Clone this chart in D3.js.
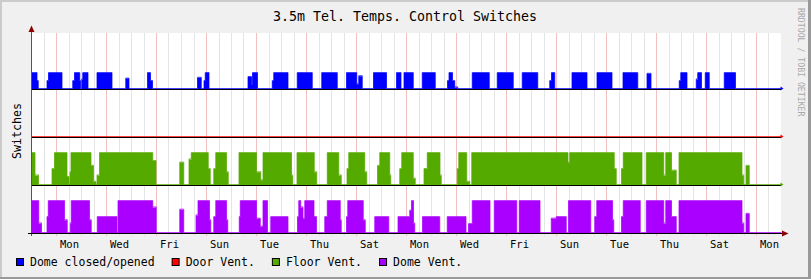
<!DOCTYPE html>
<html><head><meta charset="utf-8">
<script src="https://cdn.jsdelivr.net/npm/d3@7"></script>
<style>
body{margin:0;background:#f0f0f0}
svg{display:block}
text{font-family:"DejaVu Sans Mono",monospace}
</style>
</head><body><svg id="c" width="811" height="279"></svg>
<script>
// ---------- data ----------
const titleText = "3.5m Tel. Temps. Control Switches";
const yLabel = "Switches";
const watermark = "RRDTOOL / TOBI OETIKER";
const seriesNames = ["Dome closed/opened", "Door Vent.", "Floor Vent.", "Dome Vent."];
const seriesColors = ["#0000ff", "#ff0000", "#55aa00", "#aa00ff"];
const laneOffsets = [9, 6, 3, 0];      // stacked lane baselines (y units)
const laneHeights = [1, 2, 2, 2];      // height of a full "on" value per series
const dayLabels = ["Mon","Wed","Fri","Sun","Tue","Thu","Sat","Mon","Wed","Fri","Sun","Tue","Thu","Sat","Mon"];
const totalDays = 30;

// step data: [day since start (Sun 00:00), value held until next point]
const domeOpen = [
[0,1],[0.22,0.5],[0.27,0],
[0.62,0.5],[0.68,1],[1.22,0],
[1.65,0.5],[1.72,1],[1.93,0.5],[1.96,0],
[2.01,0.6],[2.05,1],[2.26,0],
[2.62,1],[3.22,0],
[3.77,0.65],[3.9,0],
[4.64,1],[4.76,0.5],[4.84,0],
[6.64,0.7],[6.79,0],
[6.9,0.5],[6.95,1],[7.1,0],
[8.66,0.75],[8.8,0.3],[8.84,1],[9.04,0],
[9.63,0.5],[9.69,1],[10.26,0],
[10.63,1],[11.23,0],
[11.61,1],[12.23,0],
[12.6,1],[13.01,0.3],[13.09,0.8],[13.23,0],
[13.68,1],[14.2,0],
[14.6,1],[14.78,0],
[14.9,1],[15.27,0],
[15.63,1],[16.15,0],
[16.64,0.5],[16.7,1],[16.84,0.5],[16.93,0.1],[17.05,0],
[17.63,1],[18.31,0],
[18.63,1],[19.27,0],
[19.63,1],[20.25,0],
[20.73,0.5],[20.8,1],[20.93,0],
[21.62,1],[22.22,0],
[22.62,1],[23.22,0],
[23.66,1],[24.25,0],
[24.62,0.95],[24.78,0],
[25.91,0.5],[25.97,1],[26.22,0],
[26.59,0.6],[26.65,1],[26.8,0],
[26.95,1],[27.11,0],
[27.71,1],[28.16,0],
[30,0]];

const doorVent = [[0,0],[30,0]];

const floorVent = [
[0,1],[0.14,0.3],[0.28,0],
[0.82,0.5],[0.92,1],[1.42,0.25],[1.5,0.05],[1.54,0.4],[1.58,1],[2.38,0.6],[2.48,0.1],[2.58,0],
[2.62,0.3],[2.72,1],[4.85,0.75],[4.98,0],
[5.93,0.7],[6.09,0],
[6.3,0.8],[6.39,1],[7.07,0.5],[7.15,0],
[7.29,0.5],[7.37,1],[7.8,0.4],[7.87,0],
[8.3,1],[9.0,0.4],[9.17,0.15],[9.26,1],[10.4,0.3],[10.45,0],
[10.62,1],[11.31,0.4],[11.41,0],
[11.83,1],[12.29,0.3],[12.39,0],
[12.62,0.5],[12.69,1],[13.33,0.4],[13.41,0],
[13.84,0.6],[13.93,1],[14.33,0.3],[14.37,0],
[14.73,0.5],[14.81,1],[15.27,0.2],[15.35,0],
[15.7,0.5],[15.83,1],[16.34,0.3],[16.39,0],
[17.03,0.5],[17.09,1],[17.41,0.1],[17.53,0],
[17.61,1],[21.46,0.7],[21.53,1],[23.31,0.5],[23.39,0],
[23.6,0.5],[23.67,1],[24.42,0],
[24.59,1],[25.29,0.3],[25.37,1],[25.6,0.45],[25.79,0],
[25.9,1],[28.42,0.3],[28.49,0],
[28.58,0.6],[28.71,0],
[30,0]];

const domeVent = [
[0,1],[0.29,0.3],[0.4,0],
[0.62,0.5],[0.67,1],[1.32,0.4],[1.43,0],
[1.55,0.3],[1.59,1],[2.32,0.4],[2.39,0],
[2.63,0.5],[3.42,0],[3.46,1],[4.85,0.8],[4.99,0],
[5.93,0.73],[6.09,0],
[6.58,0.55],[6.66,1],[7.12,0.4],[7.17,0],
[7.29,0.5],[7.37,1],[7.8,0.4],[7.85,0],
[8.31,0.5],[8.35,1],[9.0,0.45],[9.15,0.2],[9.26,1],[9.44,0],
[9.57,0.5],[10.26,0],
[10.64,0.5],[10.69,1],[10.77,0.8],[10.86,0.45],[10.93,1],[11.3,0.5],[11.4,0],
[11.73,0.5],[11.83,1],[12.35,0.4],[12.39,0],
[12.6,0.5],[12.65,1],[13.27,0.4],[13.35,0],
[13.73,0.5],[14.29,0],
[14.66,0.5],[15.13,0.7],[15.2,1],[15.28,0.3],[15.33,0],
[15.64,0.5],[16.33,0],
[16.63,0.5],[17.38,0],
[17.48,0.28],[17.63,1],[18.34,0],
[18.51,1],[19.41,0],
[19.51,1],[20.34,0],
[20.79,0.45],[20.99,0.5],[21.39,0],
[21.48,1],[22.37,0],
[22.53,0.5],[22.61,1],[23.24,0.4],[23.29,0],
[23.6,0.5],[23.67,1],[24.35,0],
[24.59,1],[25.29,0.3],[25.37,1],[25.6,0.5],[25.79,0],
[25.9,1],[28.42,0.3],[28.49,0],
[28.58,0.6],[28.71,0],
[30,0]];

const seriesData = [domeOpen, doorVent, floorVent, domeVent];

// ---------- drawing ----------
const W = 811, H = 279;
const svg = d3.select("#c");
const plotL = 31.5, plotR = 781.5, plotT = 33, plotB = 233;
const x = d3.scaleLinear().domain([0, totalDays]).range([plotL, plotR]);
const y = d3.scaleLinear().domain([0, 12.5]).range([plotB, plotT]);

// background + shading frame
svg.append("rect").attr("width", W).attr("height", H).attr("fill", "#f0f0f0");
svg.append("rect").attr("x",0).attr("y",0).attr("width",W).attr("height",2).attr("fill","#cbcbcb");
svg.append("rect").attr("x",0).attr("y",0).attr("width",2).attr("height",H).attr("fill","#cbcbcb");
svg.append("rect").attr("x",0).attr("y",H-2).attr("width",W).attr("height",2).attr("fill","#999999");
svg.append("rect").attr("x",W-3).attr("y",0).attr("width",3).attr("height",H).attr("fill","#999999");

// canvas
svg.append("rect").attr("x", 31).attr("y", plotT).attr("width", 750).attr("height", plotB - plotT).attr("fill", "#ffffff");

// grid
const minorDays = d3.range(0.5, totalDays, 0.5).filter(d => !(Math.abs(d % 2 - 1) < 1e-9));
const majorDays = d3.range(1, totalDays, 2);
const crisp = v => Math.floor(v) + 0.5;
svg.append("g").selectAll("line").data(minorDays).join("line")
  .attr("x1", d => crisp(x(d))).attr("x2", d => crisp(x(d)))
  .attr("y1", plotT).attr("y2", plotB + 3)
  .attr("stroke", "#e4e4e4").attr("stroke-width", 1);
svg.append("g").selectAll("line").data(majorDays).join("line")
  .attr("x1", d => crisp(x(d))).attr("x2", d => crisp(x(d)))
  .attr("y1", plotT).attr("y2", plotB + 3)
  .attr("stroke", "#f3c0c0").attr("stroke-width", 1);

// series
seriesData.forEach((data, i) => {
  const off = laneOffsets[i], hgt = laneHeights[i], col = seriesColors[i];
  const area = d3.area().curve(d3.curveStepAfter)
    .x(d => x(d[0])).y0(y(off)).y1(d => y(off + d[1] * hgt));
  svg.append("path").datum(data).attr("d", area).attr("fill", col);
  const line = d3.line().curve(d3.curveStepAfter)
    .x(d => x(d[0])).y(d => y(off + d[1] * hgt) - 0.5);
  svg.append("path").datum(data).attr("d", line)
    .attr("fill", "none").attr("stroke", col).attr("stroke-opacity", 0.75).attr("stroke-width", 1);
  // lane baseline
  svg.append("line").attr("x1", plotL).attr("x2", plotR)
    .attr("y1", y(off) + 0.5).attr("y2", y(off) + 0.5)
    .attr("stroke", "#000").attr("stroke-width", 1);
  if (off > 0) {
    const yy = y(off) - 0.5;
    svg.append("path")
      .attr("d", `M${plotR - 1},${yy - 2}L${plotR + 2},${yy}L${plotR - 1},${yy + 2}Z`)
      .attr("fill", col);
  }
});

// left axis
svg.append("line").attr("x1", 31.5).attr("x2", 31.5).attr("y1", plotB + 3).attr("y2", 29)
  .attr("stroke", "#555").attr("stroke-width", 1);
svg.append("path").attr("d", "M31.5,25.5L34.5,32L28.5,32Z").attr("fill", "#8b0000");
// bottom arrow
svg.append("line").attr("x1", 28).attr("x2", 783).attr("y1", plotB + 0.5).attr("y2", plotB + 0.5)
  .attr("stroke", "#000").attr("stroke-width", 1);
svg.append("path").attr("d", `M788.5,${plotB + 0.5}L782,${plotB - 2.5}L782,${plotB + 3.5}Z`).attr("fill", "#8b0000");

// x axis labels
const labelDays = majorDays.map(d => d + 0.5);
const xAxis = d3.axisBottom(x).tickValues(labelDays)
  .tickFormat((d, i) => dayLabels[i]).tickSize(0).tickPadding(7.5);
const gx = svg.append("g").attr("transform", `translate(0,${plotB})`).call(xAxis);
gx.select(".domain").remove();
gx.selectAll("text").attr("font-family", '"DejaVu Sans Mono", monospace')
  .attr("font-size", "10.5px").attr("fill", "#000");

// title
svg.append("text").attr("x", 405).attr("y", 21).attr("text-anchor", "middle")
  .attr("font-size", "13.3px").attr("fill", "#000").text(titleText);

// y label
svg.append("text").attr("transform", "translate(20.5,131) rotate(-90)")
  .attr("text-anchor", "middle").attr("font-size", "11.6px").attr("fill", "#000").text(yLabel);

// watermark
svg.append("text").attr("transform", "translate(797.5,8) rotate(90)")
  .attr("font-size", "8.2px").attr("fill", "#a8a8a8").text(watermark);

// legend
let lx = 16.5;
seriesNames.forEach((name, i) => {
  svg.append("rect").attr("x", lx).attr("y", 258.5).attr("width", 7).attr("height", 7)
    .attr("fill", seriesColors[i]).attr("stroke", "#000").attr("stroke-width", 1);
  const t = svg.append("text").attr("x", lx + 13.5).attr("y", 265.5)
    .attr("font-size", "11.5px").attr("fill", "#000").text(name);
  lx = lx + 13.5 + t.node().getComputedTextLength() + 17.5;
});
</script>
</body></html>
